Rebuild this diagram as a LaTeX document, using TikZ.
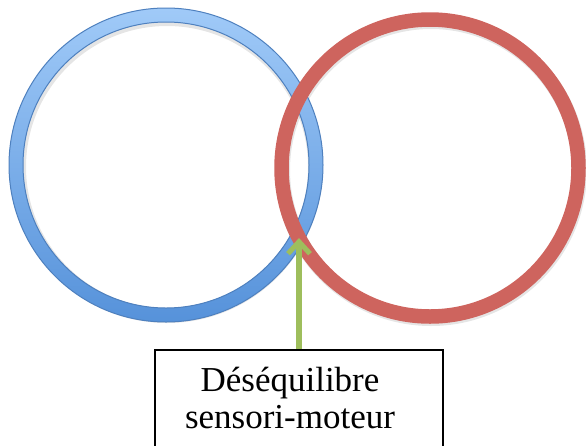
\documentclass[tikz,border=0pt]{standalone}
\usepackage{fontspec}
\setmainfont{Liberation Serif}
\usetikzlibrary{arrows.meta}
\definecolor{blueedge}{RGB}{78,128,190}
\definecolor{bluetop}{RGB}{160,202,248}
\definecolor{bluebot}{RGB}{86,146,218}
\definecolor{ringred}{RGB}{206,100,94}
\definecolor{arrowgreen}{RGB}{158,190,92}
\tikzset{
  redring/.style={circle, draw=ringred, line width=14.5pt, minimum size=297pt, inner sep=0pt},
  shade ring/.style={even odd rule, top color=bluetop, bottom color=bluebot, draw=blueedge, line width=1pt},
  ringshadow/.style={circle, draw=black, opacity=0.10, line width=15pt, minimum size=297pt, inner sep=0pt},
  greenarrow/.style={draw=arrowgreen, line width=5.5pt, -{Straight Barb[length=12pt, width=22pt, line width=5pt]}},
  labelbox/.style={draw=black, line width=1.2pt, fill=white, minimum width=288pt, minimum height=104pt, inner sep=0pt},
  labeltext/.style={align=center, font=\fontsize{35}{37}\selectfont, inner sep=0pt}
}
\begin{document}
\begin{tikzpicture}[x=1pt,y=-1pt]
\useasboundingbox (0,0) rectangle (586,445);
% shadows
\node[ringshadow] (blueshadow) at (167,167) {};
\node[ringshadow] (redshadow) at (431,170) {};
% blue ring
\coordinate (bluec) at (166,165);
\path[shade ring] (bluec) circle (157) (bluec) circle (143);
% red ring
\node[redring] (redc) at (430,168) {};
% box and text
\node[labelbox] (box) at (299,402) {};
\node[labeltext] (lbl) at (290,398) {Déséquilibre\\sensori-moteur};
% arrow
\coordinate (tip) at (299,238);
\draw[greenarrow] (box.north) -- (tip);
\draw[black, line width=1.2pt] (box.north west) -- (box.north east);
\end{tikzpicture}
\end{document}
